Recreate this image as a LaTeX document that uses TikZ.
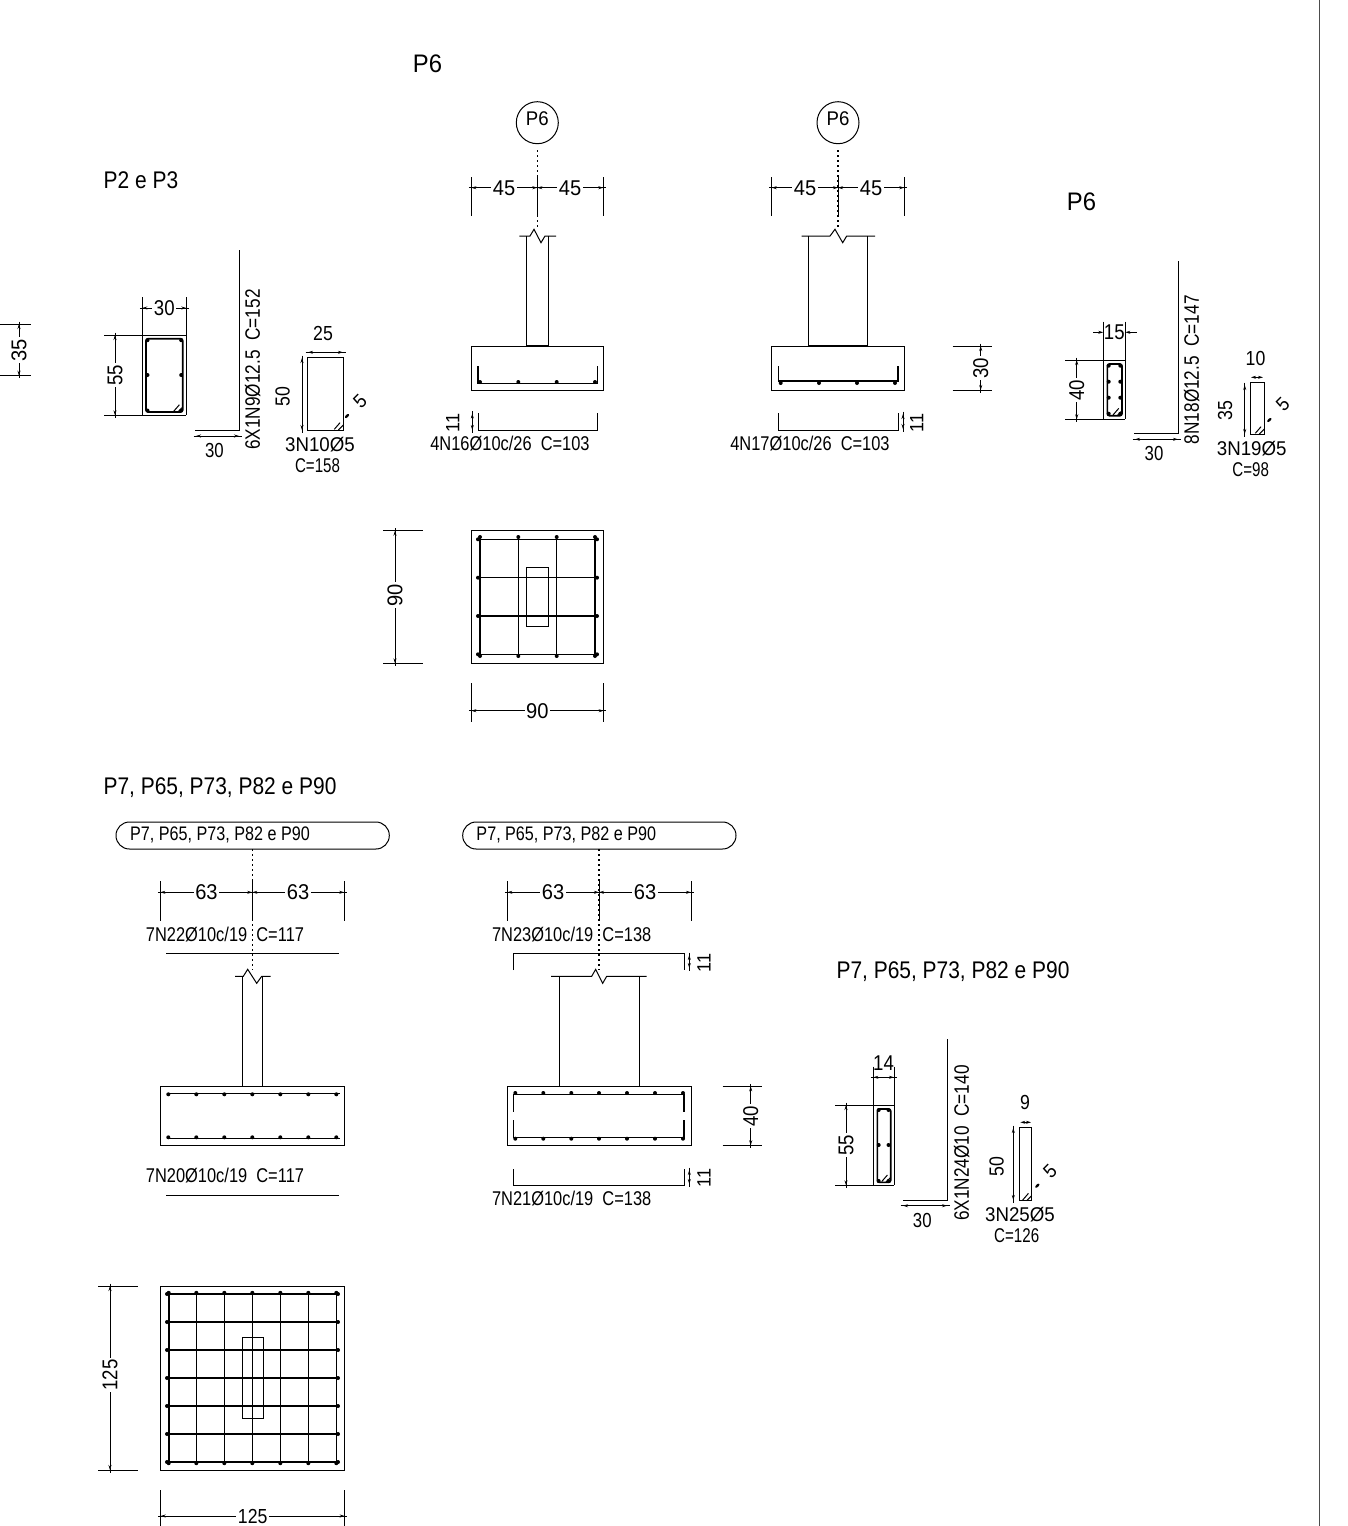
\documentclass[tikz,border=0pt]{standalone}
\usepackage{fontspec}
\usetikzlibrary{arrows.meta}
\setmainfont{Liberation Sans}
\newfontfamily\fa[FakeStretch=0.94]{Liberation Sans}
\newfontfamily\fb[FakeStretch=0.87]{Liberation Sans}
\newfontfamily\fc[FakeStretch=0.825]{Liberation Sans}
\newfontfamily\fd[FakeStretch=0.76]{Liberation Sans}
\newcount\nodeno
% text node: x, y, family, size, rotation, text (centred on digit mid height)
\newcommand{\Tx}[6]{\global\advance\nodeno by 1
  \node[txt,rotate=#5] (n\the\nodeno) at (#1,#2)
    {#3\fontsize{\the\dimexpr#4pt*107/100\relax}{24pt}\selectfont\raisebox{-.345em}[0pt][0pt]{#6}};}
% dimension label with white ground
\newcommand{\Dx}[6]{\global\advance\nodeno by 1
  \node[txt,fill=white,inner xsep=1.5pt,inner ysep=7pt,rotate=#5] (n\the\nodeno) at (#1,#2)
    {#3\fontsize{\the\dimexpr#4pt*107/100\relax}{24pt}\selectfont\raisebox{-.345em}[0pt][0pt]{#6}};}
\newcommand{\dimh}[3]{\draw[dimln] (#1,#3) -- (#2,#3);\draw[ln] (#1,#3) ++(-2.5,0) -- ++(5,0) (#2,#3) ++(-2.5,0) -- ++(5,0);}
\newcommand{\dimv}[3]{\draw[dimln] (#3,#1) -- (#3,#2);\draw[ln] (#3,#1) ++(0,-2.5) -- ++(0,5) (#3,#2) ++(0,-2.5) -- ++(0,5);}
\newcommand{\hookmark}[2]{\draw[rebar,line width=1pt,shift={(#1,#2)}] (-9,-0.7) -- (-3.3,-7.3) (-5,0) -- (0,-5);}
\newcommand{\tickmark}[2]{\fill[rotate around={45:(#1,#2)}] (#1,#2) ellipse (2.7 and 1.3);}
\tikzset{
  x=1pt,y=-1pt,
  txt/.style={inner sep=0pt,anchor=center,text=black},
  ln/.style={line width=1pt,draw=black},
  rebar/.style={line width=1.6pt,draw=black},
  thinbar/.style={line width=1.2pt,draw=black},
  dimln/.style={line width=1pt,draw=black,{Stealth[length=5pt,width=3pt]}-{Stealth[length=5pt,width=3pt]}},
  dimin/.style={line width=1pt,draw=black,-{Stealth[length=5pt,width=3pt]}},
  axisdot/.style={line width=1.2pt,draw=black,dash pattern=on 1.5pt off 3.5pt},
  rdot/.style={fill=black,draw=none},
}
\begin{document}
\begin{tikzpicture}
\useasboundingbox (0,0) rectangle (1348,1526);
\fill[white] (0,0) rectangle (1348,1526);
% sheet edge
\draw[line width=1.5pt,draw=black!70] (1319.5,0) -- (1319.5,1526);
% left margin dimension
\draw[ln] (0,324) -- (31,324) (0,375.7) -- (31,375.7);
\dimv{324}{375.7}{19}
\Dx{19}{350}{\fa}{20}{90}{35}

% ---------- P2 e P3
\Tx{141}{180}{\fb}{22.5}{0}{P2 e P3}
\draw[ln] (104,335) -- (186.3,335) (104,415.3) -- (186.3,415.3);
\draw[ln] (142.3,297) -- (142.3,415.3) (186.3,297) -- (186.3,415.3);
\dimh{142.3}{186.3}{308}
\Dx{164.3}{308}{\fb}{20}{0}{30}
\dimv{335}{415.3}{115}
\Dx{115}{375}{\fb}{20}{90}{55}
\draw[rebar,rounded corners=2pt] (146,338.7) rectangle (182.7,412);
\foreach \x in {147.5,181.2} \foreach \y in {340.2,375,410.5} \fill[rdot] (\x,\y) circle (2);
\hookmark{182.7}{412}
\draw[ln] (239.3,250) -- (239.3,430) -- (195.3,430);
\dimh{196}{239}{436}
\Tx{214.5}{450}{\fc}{19}{0}{30}
\Tx{252.7}{369.5}{\fc}{19.5}{90}{6X1N9Ø12.5\ \ C=152}
\draw[ln] (307.7,357.3) rectangle (343.3,430);
\hookmark{343.3}{430}
\dimh{308}{343}{352.3}
\Tx{323}{333.5}{\fb}{19}{0}{25}
\dimv{358}{430}{302}
\Tx{282.7}{396.7}{\fb}{19}{90}{50}
\Tx{360}{401}{\fa}{18}{45}{5}
\tickmark{347}{416}
\Tx{320}{445}{\fa}{18.6}{0}{3N10Ø5}
\Tx{317.5}{466}{\fd}{18.6}{0}{C=158}

% ---------- P6 foundation 1
\Tx{427.5}{64}{\fa}{23.7}{0}{P6}
\draw[ln] (537.3,122.7) circle (21);
\Tx{537.3}{119}{\fa}{18.5}{0}{P6}
\draw[axisdot] (537.3,150) -- (537.3,230);
\draw[ln] (537.3,177) -- (537.3,216) (471.3,177) -- (471.3,216) (603.3,177) -- (603.3,216);
\dimh{471.3}{537.3}{187.7}
\dimh{537.3}{603.3}{187.7}
\Dx{504}{187.7}{\fa}{20}{0}{45}
\Dx{570}{187.7}{\fa}{20}{0}{45}
\draw[ln] (526.3,236) -- (526.3,346) (548.3,236) -- (548.3,346);
\draw[ln] (519.3,236) -- (530,236) -- (534,229.3) -- (541,242.7) -- (545,236) -- (556,236);
\draw[ln] (471.3,346) rectangle (603.3,390);
\draw[line width=1.5pt] (526.3,346) -- (548.3,346);
\draw[thinbar] (478,366) -- (478,383.3) -- (597.3,383.3) -- (597.3,366);
\foreach \x in {480,518.3,556.7,595} \fill[rdot] (\x,382) circle (2);
\draw[ln] (478,413.3) -- (478,430) -- (597.3,430) -- (597.3,413.3);
\dimv{413.5}{430}{472.3}
\Tx{452.7}{423}{\fa}{18}{90}{11}
\Tx{510}{443.5}{\fc}{18.6}{0}{4N16Ø10c/26\ \ C=103}

% ---------- P6 foundation 2
\draw[ln] (838,122.7) circle (21);
\Tx{838}{119}{\fa}{18.5}{0}{P6}
\draw[axisdot] (838,150) -- (838,230);
\draw[ln] (838,177) -- (838,216) (771.7,177) -- (771.7,216) (904.3,177) -- (904.3,216);
\dimh{771.7}{838}{187.7}
\dimh{838}{904.3}{187.7}
\Dx{805}{187.7}{\fa}{20}{0}{45}
\Dx{871}{187.7}{\fa}{20}{0}{45}
\draw[ln] (808.3,236) -- (808.3,346) (867.3,236) -- (867.3,346);
\draw[ln] (801.7,236) -- (830,236) -- (835,229.3) -- (842.7,242.7) -- (846.7,236) -- (875,236);
\draw[ln] (771.7,346) rectangle (904.3,390);
\draw[line width=1.5pt] (808.3,346) -- (867.3,346);
\draw[thinbar] (778.3,366) -- (778.3,381) -- (898,381) -- (898,366);
\foreach \x in {780.7,819,857,895} \fill[rdot] (\x,383) circle (2);
\draw[ln] (778.3,413.3) -- (778.3,430) -- (898,430) -- (898,413.3);
\dimv{414}{429}{903}
\Tx{916.7}{423}{\fa}{18}{90}{11}
\Tx{810}{443.5}{\fc}{18.6}{0}{4N17Ø10c/26\ \ C=103}
\draw[ln] (952.7,346) -- (991.7,346) (952.7,390) -- (991.7,390);
\dimv{346}{390}{980.7}
\Dx{980.7}{368}{\fb}{20}{90}{30}

% ---------- P6 right details
\Tx{1081.5}{202}{\fa}{23.7}{0}{P6}
\draw[ln] (1065,360) -- (1125.3,360) (1065,419.3) -- (1125.3,419.3);
\draw[ln] (1103.3,321.7) -- (1103.3,419.3) (1125.3,321.7) -- (1125.3,419.3);
\draw[dimin] (1093,332.3) -- (1103.3,332.3);
\draw[dimin] (1136.7,332.3) -- (1125.3,332.3);
\Tx{1114.3}{332.3}{\fb}{20}{0}{15}
\dimv{360}{419.3}{1076.7}
\Dx{1076.7}{390}{\fb}{20}{90}{40}
\draw[rebar,rounded corners=2pt] (1107.3,364) rectangle (1122,415.7);
\foreach \x in {1108.7,1120.3} \foreach \y in {365.7,381.7,397.7,413.7} \fill[rdot] (\x,\y) circle (2);
\hookmark{1122}{415.7}
\draw[ln] (1178.7,261) -- (1178.7,433.3) -- (1134.3,433.3);
\dimh{1135}{1178}{439.3}
\Tx{1154}{453}{\fc}{19}{0}{30}
\Tx{1191.7}{369.7}{\fc}{19.5}{90}{8N18Ø12.5\ \ C=147}
\draw[ln] (1250,382.7) rectangle (1264.3,434);
\hookmark{1264.3}{434}
\draw[dimln] (1251,377.3) -- (1263,377.3);
\Tx{1255.5}{358}{\fb}{19}{0}{10}
\dimv{385}{434}{1244.7}
\Tx{1225}{410.7}{\fb}{19}{90}{35}
\Tx{1282.7}{404}{\fa}{18}{45}{5}
\tickmark{1269.3}{420}
\Tx{1251.7}{448.3}{\fa}{18.6}{0}{3N19Ø5}
\Tx{1250.7}{470}{\fd}{18.6}{0}{C=98}

% ---------- P6 plan
\draw[ln] (471.3,530.7) rectangle (603.7,663.3);
\draw[thinbar] (477.3,577.7) -- (598.3,577.7) (477.3,616) -- (598.3,616) (518.3,536) -- (518.3,656.7) (556.7,536) -- (556.7,656.7);
\draw[rebar] (477.3,539.3) -- (598.3,539.3) (477.3,654.3) -- (598.3,654.3) (480,536) -- (480,656.7) (595,536) -- (595,656.7);
\foreach \x in {480,518.3,556.7,595} { \fill[rdot] (\x,537) circle (2); \fill[rdot] (\x,656) circle (2); }
\foreach \y in {539.3,577.7,616,654.3} { \fill[rdot] (478,\y) circle (2); \fill[rdot] (597,\y) circle (2); }
\draw[ln] (526.3,567.3) rectangle (548.3,626.7);
\draw[ln] (383.3,530.7) -- (422.7,530.7) (383.3,663.3) -- (422.7,663.3);
\dimv{530.7}{663.3}{395}
\Dx{395}{595}{\fa}{20}{90}{90}
\draw[ln] (471.3,683.3) -- (471.3,721.7) (603.7,683.3) -- (603.7,721.7);
\dimh{471.3}{603.7}{710.7}
\Dx{537.3}{710.7}{\fa}{20}{0}{90}

% ---------- P7 group
\Tx{220}{786}{\fb}{22.5}{0}{P7, P65, P73, P82 e P90}
% foundation 3
\draw[ln,rounded corners=13.4pt] (116,822) rectangle (389.3,849);
\Tx{220}{833.5}{\fc}{18.3}{0}{P7, P65, P73, P82 e P90}
\draw[axisdot] (252.3,849) -- (252.3,970);
\draw[ln] (252.3,881) -- (252.3,920.7) (160.3,881) -- (160.3,920.7) (344.3,881) -- (344.3,920.7);
\dimh{160.3}{252.3}{892.3}
\dimh{252.3}{344.3}{892.3}
\Dx{206.5}{892.3}{\fa}{20}{0}{63}
\Dx{298}{892.3}{\fa}{20}{0}{63}
\Tx{225}{935}{\fc}{18.6}{0}{7N22Ø10c/19\ \ C=117}
\draw[ln] (166,953.3) -- (339,953.3);
\draw[ln] (242.3,976.3) -- (242.3,1086.3) (262.7,976.3) -- (262.7,1086.3);
\draw[ln] (235,976.3) -- (243.3,976.3) -- (247.7,969.3) -- (256.7,983.3) -- (261.7,976.3) -- (270.7,976.3);
\draw[ln] (160.3,1086.3) rectangle (344.3,1145.3);
\draw[thinbar] (166.7,1093.3) -- (340,1093.3) (166.7,1138.3) -- (340,1138.3);
\foreach \x in {168.3,196.3,224.3,252.3,280.3,308.3,336.3} { \fill[rdot] (\x,1094.3) circle (2); \fill[rdot] (\x,1137.3) circle (2); }
\Tx{225}{1175.7}{\fc}{18.6}{0}{7N20Ø10c/19\ \ C=117}
\draw[ln] (166,1195.3) -- (339,1195.3);

% foundation 4
\draw[ln,rounded corners=13.4pt] (462.7,822) rectangle (736,849);
\Tx{566.3}{833.5}{\fc}{18.3}{0}{P7, P65, P73, P82 e P90}
\draw[axisdot] (599,849) -- (599,970);
\draw[ln] (599,881) -- (599,920.7) (507.3,881) -- (507.3,920.7) (691,881) -- (691,920.7);
\dimh{507.3}{599}{892.3}
\dimh{599}{691}{892.3}
\Dx{553}{892.3}{\fa}{20}{0}{63}
\Dx{645}{892.3}{\fa}{20}{0}{63}
\Tx{571.7}{935}{\fc}{18.6}{0}{7N23Ø10c/19\ \ C=138}
\draw[ln] (513.7,970) -- (513.7,953.3) -- (684,953.3) -- (684,970);
\dimv{955}{968}{689.3}
\Tx{704}{963.3}{\fa}{18}{90}{11}
\draw[ln] (559,976.3) -- (559,1086.3) (639.7,976.3) -- (639.7,1086.3);
\draw[ln] (551,976.3) -- (591.7,976.3) -- (595.7,969.3) -- (602.7,983.3) -- (606.7,976.3) -- (646.7,976.3);
\draw[ln] (507.3,1086.3) rectangle (691,1145.3);
\draw[thinbar] (513.7,1111.7) -- (513.7,1094.3) -- (684,1094.3) -- (684,1111.7);
\draw[thinbar] (513.7,1120) -- (513.7,1137.7) -- (684,1137.7) -- (684,1120);
\foreach \x in {515.3,543.3,571.3,599,627,655,683} { \fill[rdot] (\x,1093) circle (2); \fill[rdot] (\x,1138.7) circle (2); }
\draw[ln] (722.7,1086.3) -- (761.7,1086.3) (722.7,1145.3) -- (761.7,1145.3);
\dimv{1086.3}{1145.3}{750.7}
\Dx{750.7}{1116}{\fb}{20}{90}{40}
\draw[ln] (513.7,1169) -- (513.7,1185) -- (684,1185) -- (684,1169);
\dimv{1170}{1184}{689.3}
\Tx{704}{1178.3}{\fa}{18}{90}{11}
\Tx{571.7}{1198.3}{\fc}{18.6}{0}{7N21Ø10c/19\ \ C=138}

% P7 details
\Tx{953}{970}{\fb}{22.5}{0}{P7, P65, P73, P82 e P90}
\draw[ln] (835,1105) -- (894,1105) (835,1185.3) -- (894,1185.3);
\draw[ln] (873.3,1066.7) -- (873.3,1185.3) (894,1066.7) -- (894,1185.3);
\dimh{873.3}{894}{1077.3}
\Tx{883.5}{1063.3}{\fb}{20}{0}{14}
\dimv{1105}{1185.3}{846}
\Dx{846}{1145}{\fb}{20}{90}{55}
\draw[rebar,rounded corners=2pt] (877.3,1109) rectangle (890.7,1182.3);
\foreach \x in {878.7,888.5} \foreach \y in {1110,1145,1181} \fill[rdot] (\x,\y) circle (2);
\hookmark{890.7}{1182.3}
\draw[ln] (947.3,1039.3) -- (947.3,1200) -- (902.7,1200);
\dimh{903}{947}{1205.7}
\Tx{922.3}{1220}{\fc}{19}{0}{30}
\Tx{961.7}{1143}{\fc}{19.5}{90}{6X1N24Ø10\ \ C=140}
\draw[ln] (1019.3,1127.7) rectangle (1031.7,1200.7);
\hookmark{1031.7}{1200.7}
\draw[dimln] (1020.3,1122.3) -- (1031,1122.3);
\Tx{1025}{1102.3}{\fb}{19}{0}{9}
\dimv{1128}{1200}{1013.3}
\Tx{996.7}{1166.7}{\fb}{19}{90}{50}
\Tx{1050}{1171.7}{\fa}{18}{45}{5}
\tickmark{1037.3}{1185.7}
\Tx{1020}{1215}{\fa}{18.6}{0}{3N25Ø5}
\Tx{1016.7}{1236}{\fd}{18.6}{0}{C=126}

% P7 plan
\draw[ln] (160.7,1286) rectangle (344.7,1470);
\foreach \y in {1322,1350,1378,1406,1434} \draw[thinbar] (166,\y) -- (339.3,\y);
\foreach \x in {196.3,224.3,252.3,280.3,308.3} \draw[thinbar] (\x,1291.7) -- (\x,1464.3);
\draw[rebar] (166,1294) -- (339.3,1294) (166,1462) -- (339.3,1462) (168.7,1291.7) -- (168.7,1464.3) (336.3,1291.7) -- (336.3,1464.3);
\foreach \x in {168.7,196.3,224.3,252.3,280.3,308.3,336.3} { \fill[rdot] (\x,1292.8) circle (2); \fill[rdot] (\x,1463.2) circle (2); }
\foreach \y in {1294,1322,1350,1378,1406,1434,1462} { \fill[rdot] (167,\y) circle (2); \fill[rdot] (338,\y) circle (2); }
\draw[ln] (242.3,1337.7) rectangle (263,1418.3);
\draw[ln] (98.3,1286) -- (137.7,1286) (98.3,1470) -- (137.7,1470);
\dimv{1286}{1470}{110}
\Dx{110}{1375}{\fb}{20}{90}{125}
\draw[ln] (160.7,1490) -- (160.7,1526) (344.7,1490) -- (344.7,1526);
\dimh{160.7}{344.7}{1516}
\Dx{252.7}{1516}{\fb}{19}{0}{125}
\end{tikzpicture}
\end{document}
